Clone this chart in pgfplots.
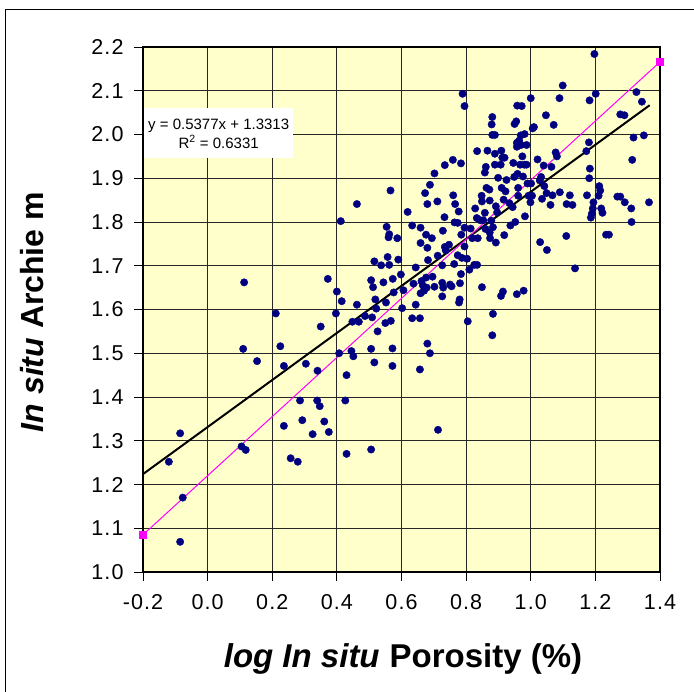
\documentclass[border=0pt]{standalone}
\usepackage{pgfplots}
\pgfplotsset{compat=1.18}
\usepackage{fontspec}
\setmainfont{Liberation Sans}
\newfontfamily\tickfont[LetterSpace=5]{Liberation Sans}
\definecolor{bgyellow}{RGB}{255,255,204}
\definecolor{dotnavy}{RGB}{0,0,128}
\definecolor{trendmag}{RGB}{255,0,255}
\begin{document}
\begin{tikzpicture}[x=1pt,y=1pt]
\useasboundingbox (0pt,0pt) rectangle (694pt,-692pt);
\draw[line width=0.9pt] (5pt,-720pt) -- (5pt,-9pt) -- (720pt,-9pt);
\begin{axis}[
  at={(143pt,-572pt)}, anchor=south west,
  scale only axis, width=517pt, height=525pt,
  xmin=-0.2, xmax=1.4, ymin=1.0, ymax=2.2,
  xtick={-0.2,0,0.2,0.4,0.6,0.8,1.0,1.2,1.4},
  ytick={1.0,1.1,1.2,1.3,1.4,1.5,1.6,1.7,1.8,1.9,2.0,2.1,2.2},
  /pgf/number format/assume math mode=true,
  /pgf/number format/fixed,
  /pgf/number format/fixed zerofill,
  /pgf/number format/precision=1,
  ticklabel style={font=\tickfont\fontsize{21.5}{21.5}\selectfont},
  xticklabel style={yshift=-10pt},
  yticklabel style={xshift=-7pt},
  tick pos=left, tick align=outside, major tick length=9pt,
  tick style={black, line width=0.8pt},
  grid=major, major grid style={black!85, line width=0.8pt},
  axis line style={black, line width=1.3pt},
  axis background/.style={fill=bgyellow},
  clip=false,
]
\addplot[only marks, mark=*, mark size=3.7pt, mark options={fill=dotnavy, draw=dotnavy}] table {
x y
-0.120 1.252
-0.085 1.317
-0.077 1.170
-0.085 1.069
0.113 1.662
0.110 1.510
0.105 1.287
0.118 1.279
0.153 1.482
0.211 1.591
0.225 1.516
0.236 1.471
0.236 1.334
0.257 1.260
0.279 1.252
0.286 1.392
0.293 1.347
0.304 1.476
0.325 1.315
0.339 1.392
0.347 1.379
0.340 1.460
0.350 1.561
0.361 1.344
0.375 1.320
0.372 1.670
0.400 1.641
0.397 1.591
0.407 1.500
0.412 1.802
0.415 1.619
0.430 1.450
0.426 1.392
0.430 1.270
0.445 1.505
0.451 1.493
0.448 1.572
0.462 1.611
0.462 1.841
0.468 1.572
0.487 1.585
0.506 1.667
0.512 1.651
0.509 1.582
0.506 1.510
0.516 1.479
0.506 1.280
0.519 1.623
0.522 1.602
0.526 1.550
0.516 1.710
0.537 1.701
0.544 1.662
0.550 1.569
0.552 1.616
0.557 1.720
0.562 1.702
0.554 1.789
0.562 1.772
0.560 1.765
0.566 1.872
0.567 1.574
0.572 1.511
0.572 1.471
0.573 1.670
0.576 1.639
0.587 1.763
0.590 1.714
0.598 1.680
0.602 1.603
0.606 1.644
0.619 1.823
0.633 1.792
0.633 1.580
0.644 1.696
0.644 1.611
0.637 1.659
0.657 1.580
0.657 1.463
0.659 1.787
0.659 1.752
0.673 1.866
0.676 1.771
0.680 1.841
0.680 1.522
0.688 1.500
0.688 1.885
0.694 1.763
0.680 1.741
0.682 1.713
0.662 1.665
0.666 1.655
0.670 1.643
0.676 1.673
0.678 1.650
0.659 1.637
0.696 1.675
0.702 1.911
0.702 1.652
0.711 1.847
0.712 1.723
0.713 1.325
0.726 1.630
0.726 1.661
0.729 1.650
0.726 1.701
0.733 1.811
0.728 1.780
0.734 1.930
0.734 1.743
0.737 1.735
0.747 1.748
0.750 1.657
0.755 1.653
0.759 1.942
0.760 1.861
0.763 1.704
0.764 1.799
0.766 1.841
0.774 1.724
0.774 1.798
0.777 1.824
0.778 1.616
0.780 1.623
0.781 1.660
0.784 1.681
0.784 1.934
0.787 1.718
0.789 2.093
0.795 2.065
0.785 1.771
0.795 1.744
0.795 1.787
0.803 1.716
0.805 1.573
0.810 1.691
0.814 1.785
0.819 1.763
0.825 1.702
0.828 1.831
0.834 1.962
0.833 1.809
0.834 1.702
0.836 1.763
0.844 1.804
0.849 1.651
0.848 1.860
0.849 1.847
0.853 1.804
0.858 1.913
0.861 1.926
0.858 1.821
0.860 1.784
0.863 1.878
0.866 1.963
0.872 1.874
0.873 1.849
0.873 1.776
0.874 1.763
0.878 1.803
0.879 2.023
0.881 2.040
0.881 1.999
0.883 1.590
0.881 1.541
0.889 1.999
0.889 1.956
0.889 1.931
0.883 1.788
0.892 1.836
0.892 1.753
0.896 1.822
0.899 1.901
0.907 1.931
0.909 1.963
0.910 1.878
0.912 1.947
0.908 1.631
0.914 1.641
0.916 1.851
0.919 1.947
0.918 1.770
0.922 1.870
0.925 1.896
0.934 1.843
0.937 1.792
0.944 1.834
0.946 1.935
0.949 1.903
0.950 2.024
0.952 1.800
0.955 2.030
0.957 1.981
0.957 1.972
0.958 2.066
0.959 1.910
0.957 1.635
0.961 1.860
0.961 1.878
0.964 1.986
0.967 1.931
0.969 1.998
0.972 2.065
0.970 1.976
0.974 1.950
0.978 1.643
0.976 1.904
0.980 1.931
0.981 2.001
0.982 1.813
0.987 1.976
0.987 1.931
0.990 1.888
0.993 1.860
0.999 1.845
1.000 2.083
1.001 1.888
1.004 1.860
1.006 2.014
1.010 2.017
1.021 1.943
1.028 1.895
1.029 1.754
1.032 1.903
1.035 1.853
1.040 1.929
1.042 1.882
1.047 2.044
1.049 1.866
1.050 1.736
1.061 1.839
1.064 1.926
1.067 1.861
1.071 2.022
1.077 1.959
1.081 1.950
1.089 2.083
1.090 1.868
1.099 2.112
1.110 1.768
1.111 1.841
1.121 1.861
1.129 1.839
1.137 1.694
1.172 1.962
1.174 1.861
1.180 1.982
1.182 2.078
1.181 1.900
1.183 1.922
1.186 1.810
1.189 1.819
1.192 1.831
1.194 1.845
1.197 2.184
1.201 2.093
1.210 1.860
1.212 1.882
1.215 1.872
1.218 1.831
1.222 1.821
1.233 1.771
1.242 1.771
1.268 1.858
1.277 1.858
1.277 2.046
1.290 2.044
1.291 1.845
1.311 1.831
1.312 1.800
1.314 1.942
1.318 1.993
1.327 2.097
1.344 2.075
1.350 1.998
1.366 1.845
};
\addplot[black, line width=2pt] coordinates {(-0.2,1.22376) (1.368,2.06689)};
\addplot[trendmag, line width=1pt, mark=square*, mark size=3.5pt, mark options={fill=trendmag, draw=trendmag}] coordinates {(-0.2,1.085) (1.4,2.166)};
\node[fill=white, inner sep=0pt, minimum width=149pt, minimum height=50pt, align=center, font=\fontsize{15}{19}\selectfont, anchor=north west] at (axis cs:-0.197,2.060) {y = 0.5377x + 1.3313\\R\textsuperscript{2} = 0.6331};
\end{axis}
\node[font=\fontsize{33}{33}\selectfont\bfseries] at (403pt,-659pt) {\textit{log In situ}\hspace{10pt}Porosity (\%)};
\node[font=\fontsize{32}{32}\selectfont\bfseries, rotate=90] at (32pt,-312pt) {\textit{In situ} Archie m};
\end{tikzpicture}
\end{document}
